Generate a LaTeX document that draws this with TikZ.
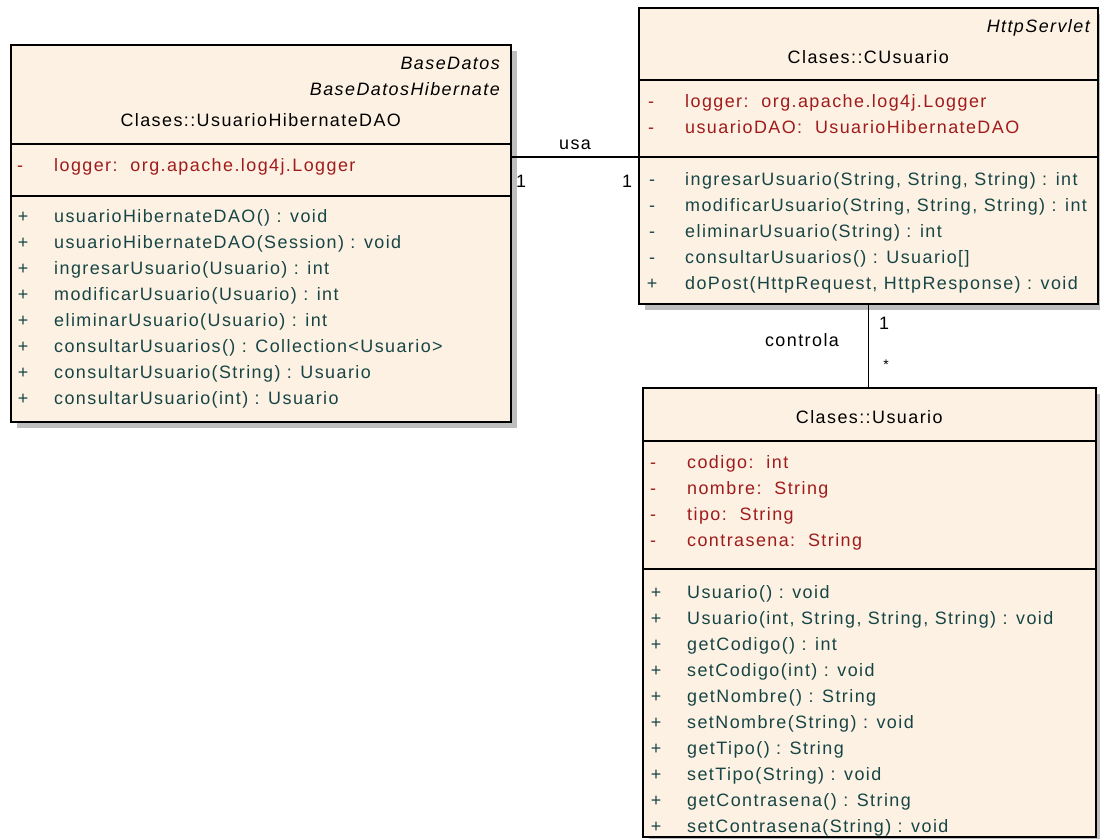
\documentclass[tikz,border=0pt]{standalone}
\usepackage{fontspec}
\setmainfont{Liberation Sans}[LetterSpace=8]
\usetikzlibrary{shadows}

\definecolor{classfill}{HTML}{FCF1E3}
\definecolor{attrcol}{HTML}{A01B1B}
\definecolor{opcol}{HTML}{174545}
\definecolor{shadowgrey}{HTML}{BEBEBE}

\tikzset{
  classbox/.style={draw=black, line width=1.5bp, fill=classfill, anchor=north west,
    inner sep=0pt, drop shadow={shadow xshift=6bp, shadow yshift=-6bp, fill=shadowgrey, opacity=1}},
  sepline/.style={draw=black, line width=1.3bp},
  txt/.style={inner sep=0pt, font=\fontsize{18}{22}\selectfont, anchor=base west},
  attr/.style={txt, text=attrcol},
  oper/.style={txt, text=opcol},
  vis/.style={anchor=base},
  title/.style={txt, anchor=base, text=black},
  stereo/.style={txt, anchor=base east, font=\fontsize{18}{22}\selectfont\itshape},
  link/.style={draw=black, line width=1.3bp},
  lbl/.style={txt, anchor=base, text=black},
}

\begin{document}
\begin{tikzpicture}[x=1bp, y=-1bp]
\useasboundingbox (0,0) rectangle (1100,839);

% ---------- Clases::UsuarioHibernateDAO ----------
\node[classbox, minimum width=500bp, minimum height=377bp] (dao) at (10,44) {};
\draw[sepline] (dao.west |- 0,144) -- (dao.east |- 0,144);
\draw[sepline] (dao.west |- 0,196) -- (dao.east |- 0,196);
\node[stereo] (daost1) at (500,69) {BaseDatos};
\node[stereo] (daost2) at (500,95) {BaseDatosHibernate};
\node[title] (daoname) at (dao.north |- 0,126) {Clases::UsuarioHibernateDAO};
\node[attr, vis] (daoam1) at (20,171) {-};
\node[attr] (daoat1) at (54,171) {logger:\ \ org.apache.log4j.Logger};
\foreach \t [count=\i] in {
  {usuarioHibernateDAO() : void},
  {usuarioHibernateDAO(Session) : void},
  {ingresarUsuario(Usuario) : int},
  {modificarUsuario(Usuario) : int},
  {eliminarUsuario(Usuario) : int},
  {consultarUsuarios() : Collection<Usuario>},
  {consultarUsuario(String) : Usuario},
  {consultarUsuario(int) : Usuario}} {
  \node[oper, vis] (daoom\i) at (23,{196+26*\i}) {+};
  \node[oper] (daoot\i) at (54,{196+26*\i}) {\t};
}

% ---------- Clases::CUsuario ----------
\node[classbox, minimum width=459bp, minimum height=296bp] (cu) at (638,7) {};
\draw[sepline] (cu.west |- 0,80) -- (cu.east |- 0,80);
\draw[sepline] (cu.west |- 0,157) -- (cu.east |- 0,157);
\node[stereo] (cust) at (1090,32) {HttpServlet};
\node[title] (cuname) at (cu.north |- 0,63) {Clases::CUsuario};
\foreach \t [count=\i] in {
  {logger:\ \ org.apache.log4j.Logger},
  {usuarioDAO:\ \ UsuarioHibernateDAO}} {
  \node[attr, vis] (cuam\i) at (651,{81+26*\i}) {-};
  \node[attr] (cuat\i) at (685,{81+26*\i}) {\t};
}
\foreach \m/\t [count=\i] in {
  -/{ingresarUsuario(String, String, String) : int},
  -/{modificarUsuario(String, String, String) : int},
  -/{eliminarUsuario(String) : int},
  -/{consultarUsuarios() : Usuario[]},
  +/{doPost(HttpRequest, HttpResponse) : void}} {
  \node[oper, vis] (cuom\i) at (652,{159+26*\i}) {\m};
  \node[oper] (cuot\i) at (685,{159+26*\i}) {\t};
}

% ---------- Clases::Usuario ----------
\node[classbox, minimum width=453bp, minimum height=449bp] (us) at (642,387) {};
\draw[sepline] (us.west |- 0,441) -- (us.east |- 0,441);
\draw[sepline] (us.west |- 0,569) -- (us.east |- 0,569);
\node[title] (usname) at (us.north |- 0,423) {Clases::Usuario};
\foreach \t [count=\i] in {
  {codigo:\ \ int},
  {nombre:\ \ String},
  {tipo:\ \ String},
  {contrasena:\ \ String}} {
  \node[attr, vis] (usam\i) at (653,{442+26*\i}) {-};
  \node[attr] (usat\i) at (687,{442+26*\i}) {\t};
}
\foreach \t [count=\i] in {
  {Usuario() : void},
  {Usuario(int, String, String, String) : void},
  {getCodigo() : int},
  {setCodigo(int) : void},
  {getNombre() : String},
  {setNombre(String) : void},
  {getTipo() : String},
  {setTipo(String) : void},
  {getContrasena() : String},
  {setContrasena(String) : void}} {
  \node[oper, vis] (usom\i) at (656,{572+26*\i}) {+};
  \node[oper] (usot\i) at (687,{572+26*\i}) {\t};
}

% ---------- associations ----------
\draw[link] (dao.east |- 0,157) -- (cu.west |- 0,157);
\node[lbl] (usa) at (575,149) {usa};
\node[lbl] (usa1) at (521,187) {1};
\node[lbl] (usa2) at (627,187) {1};

\draw[link] (cu.south) -- (cu.south |- us.north);
\node[lbl] (ctl) at (802,346) {controla};
\node[lbl] (ctl1) at (884,329) {1};
\node[lbl, font=\fontsize{14}{18}\selectfont] (ctl2) at (886,369) {*};
\end{tikzpicture}
\end{document}
